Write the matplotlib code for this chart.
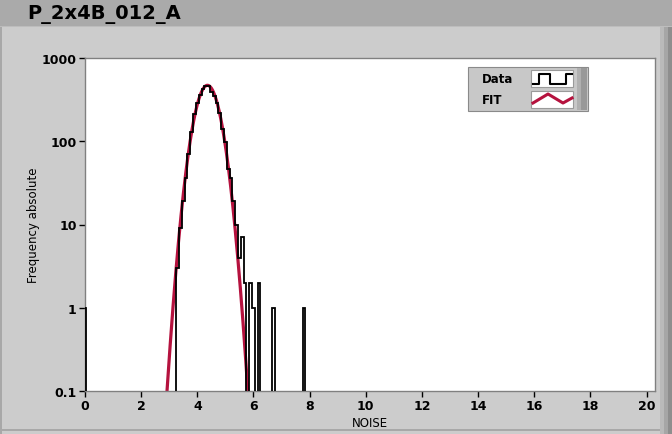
import numpy as np
import matplotlib
matplotlib.use("Agg")
import matplotlib.pyplot as plt
from matplotlib.patches import Rectangle
from matplotlib.ticker import FixedLocator, NullLocator, FixedFormatter

# ---------------- data ----------------
title = "P_2x4B_012_A"
x_label = "NOISE"
y_label = "Frequency absolute"
x_ticks = [0, 2, 4, 6, 8, 10, 12, 14, 16, 18, 20]
y_ticks = [0.1, 1, 10, 100, 1000]
y_tick_labels = ["0.1", "1", "10", "100", "1000"]

bin_width = 0.1
# centres of non-empty histogram bins and their counts
bin_centers = [0.0, 3.3, 3.4, 3.5, 3.6, 3.7, 3.8, 3.9, 4.0, 4.1, 4.2, 4.3, 4.4,
               4.5, 4.6, 4.7, 4.8, 4.9, 5.0, 5.1, 5.2, 5.3, 5.4, 5.5, 5.6, 5.7,
               5.9, 6.0, 6.2, 6.7, 7.8]
bin_counts = [1, 3, 9, 19, 36, 70, 130, 215, 290, 360, 420, 465, 455,
              390, 350, 290, 220, 140, 97, 46, 36, 19, 10, 4, 7, 2,
              2, 1, 2, 1, 1]

# Gaussian fit parameters
fit_amplitude = 470.0
fit_mean = 4.36
fit_sigma = 0.35
fit_x_range = (2.5, 6.3)

legend_labels = ["Data", "FIT"]

# ---------------- figure ----------------
W, H = 672, 435
fig = plt.figure(figsize=(W / 100, H / 100), dpi=100)
fig.patch.set_facecolor("#cccccc")

# background decoration axes in pixel coordinates
bg = fig.add_axes([0, 0, 1, 1], zorder=0)
bg.set_xlim(0, W)
bg.set_ylim(H, 0)
bg.axis("off")
bg.add_patch(Rectangle((0, 0), W, 27, facecolor="#aaaaaa", edgecolor="none"))
bg.add_patch(Rectangle((0, 27), W, 1, facecolor="#bdbdbd", edgecolor="none"))
bg.add_patch(Rectangle((0, 28), 2, H - 28, facecolor="#a8a8a8", edgecolor="none"))
bg.add_patch(Rectangle((660, 28), 4, H - 28, facecolor="#bababa", edgecolor="none"))
bg.add_patch(Rectangle((664, 28), 4, H - 28, facecolor="#a6a6a6", edgecolor="none"))
bg.add_patch(Rectangle((668, 28), 4, H - 28, facecolor="#8e8e8e", edgecolor="none"))
bg.add_patch(Rectangle((0, 430), 660, 2, facecolor="#a8a8a8", edgecolor="none"))
bg.text(27, 14, title, fontsize=14, fontweight="bold", color="black",
        ha="left", va="center", family="DejaVu Sans")

# main axes
left_px, right_px, top_px, bottom_px = 85, 655, 59, 392
ax = fig.add_axes([left_px / W, 1 - bottom_px / H,
                   (right_px - left_px) / W, (bottom_px - top_px) / H], zorder=1)
ax.set_facecolor("white")
ax.set_yscale("log")
ax.set_xlim(0, 20.3)
ax.set_ylim(0.1, 1000)

# histogram from the bin lists
edges = np.round(np.arange(-0.05, 20.0501, bin_width), 4)
counts = np.zeros(len(edges) - 1)
for c, n in zip(bin_centers, bin_counts):
    counts[int(round(c / bin_width))] = n
floor = 1e-4
shown = np.where(counts > 0, counts, floor)

fx = np.linspace(fit_x_range[0], fit_x_range[1], 600)
fy = fit_amplitude * np.exp(-0.5 * ((fx - fit_mean) / fit_sigma) ** 2)
ax.plot(fx, fy, color="#b5123e", lw=2.3, zorder=2, solid_capstyle="butt")
ax.stairs(shown, edges, baseline=floor, color="black", lw=1.3, zorder=3)

ax.xaxis.set_major_locator(FixedLocator(x_ticks))
ax.yaxis.set_major_locator(FixedLocator(y_ticks))
ax.yaxis.set_major_formatter(FixedFormatter(y_tick_labels))
ax.yaxis.set_minor_locator(NullLocator())
ax.xaxis.set_minor_locator(NullLocator())
ax.set_xticklabels([str(t) for t in x_ticks])
ax.tick_params(axis="both", direction="out", length=4, width=1, color="black",
               labelsize=9, pad=2)
for lab in ax.get_xticklabels() + ax.get_yticklabels():
    lab.set_fontweight("bold")
for s in ax.spines.values():
    s.set_color("#808080")
    s.set_linewidth(1)
ax.set_xlabel(x_label, fontsize=8.5, labelpad=3)
ax.set_ylabel(y_label, fontsize=8.5, labelpad=1)

# legend overlay in pixel coordinates
ov = fig.add_axes([0, 0, 1, 1], zorder=5)
ov.set_xlim(0, W)
ov.set_ylim(H, 0)
ov.axis("off")
ov.patch.set_visible(False)
ov.add_patch(Rectangle((468, 68), 120, 44, facecolor="#c8c8c8",
                       edgecolor="#8a8a8a", lw=0.8))
ov.add_patch(Rectangle((577, 69), 4, 42, facecolor="#b0b0b0", edgecolor="none"))
ov.add_patch(Rectangle((581, 69), 6, 42, facecolor="#999999", edgecolor="none"))
ov.add_patch(Rectangle((531, 71), 42, 17, facecolor="white", edgecolor="#9a9a9a", lw=0.8))
ov.add_patch(Rectangle((531, 92), 42, 17, facecolor="white", edgecolor="#9a9a9a", lw=0.8))
ov.text(482, 79.5, legend_labels[0], fontsize=8.5, fontweight="bold",
        ha="left", va="center")
ov.text(482, 101, legend_labels[1], fontsize=8.5, fontweight="bold",
        ha="left", va="center")
ov.plot([533, 538.5, 538.5, 550, 550, 566, 566, 572],
        [85, 85, 74.5, 74.5, 85, 85, 74.5, 74.5], color="black", lw=1.5)
ov.plot([533, 548, 563, 572], [104, 95, 104, 99], color="#b5123e", lw=2.2)

fig.savefig("out.png", dpi=100, facecolor=fig.get_facecolor())
